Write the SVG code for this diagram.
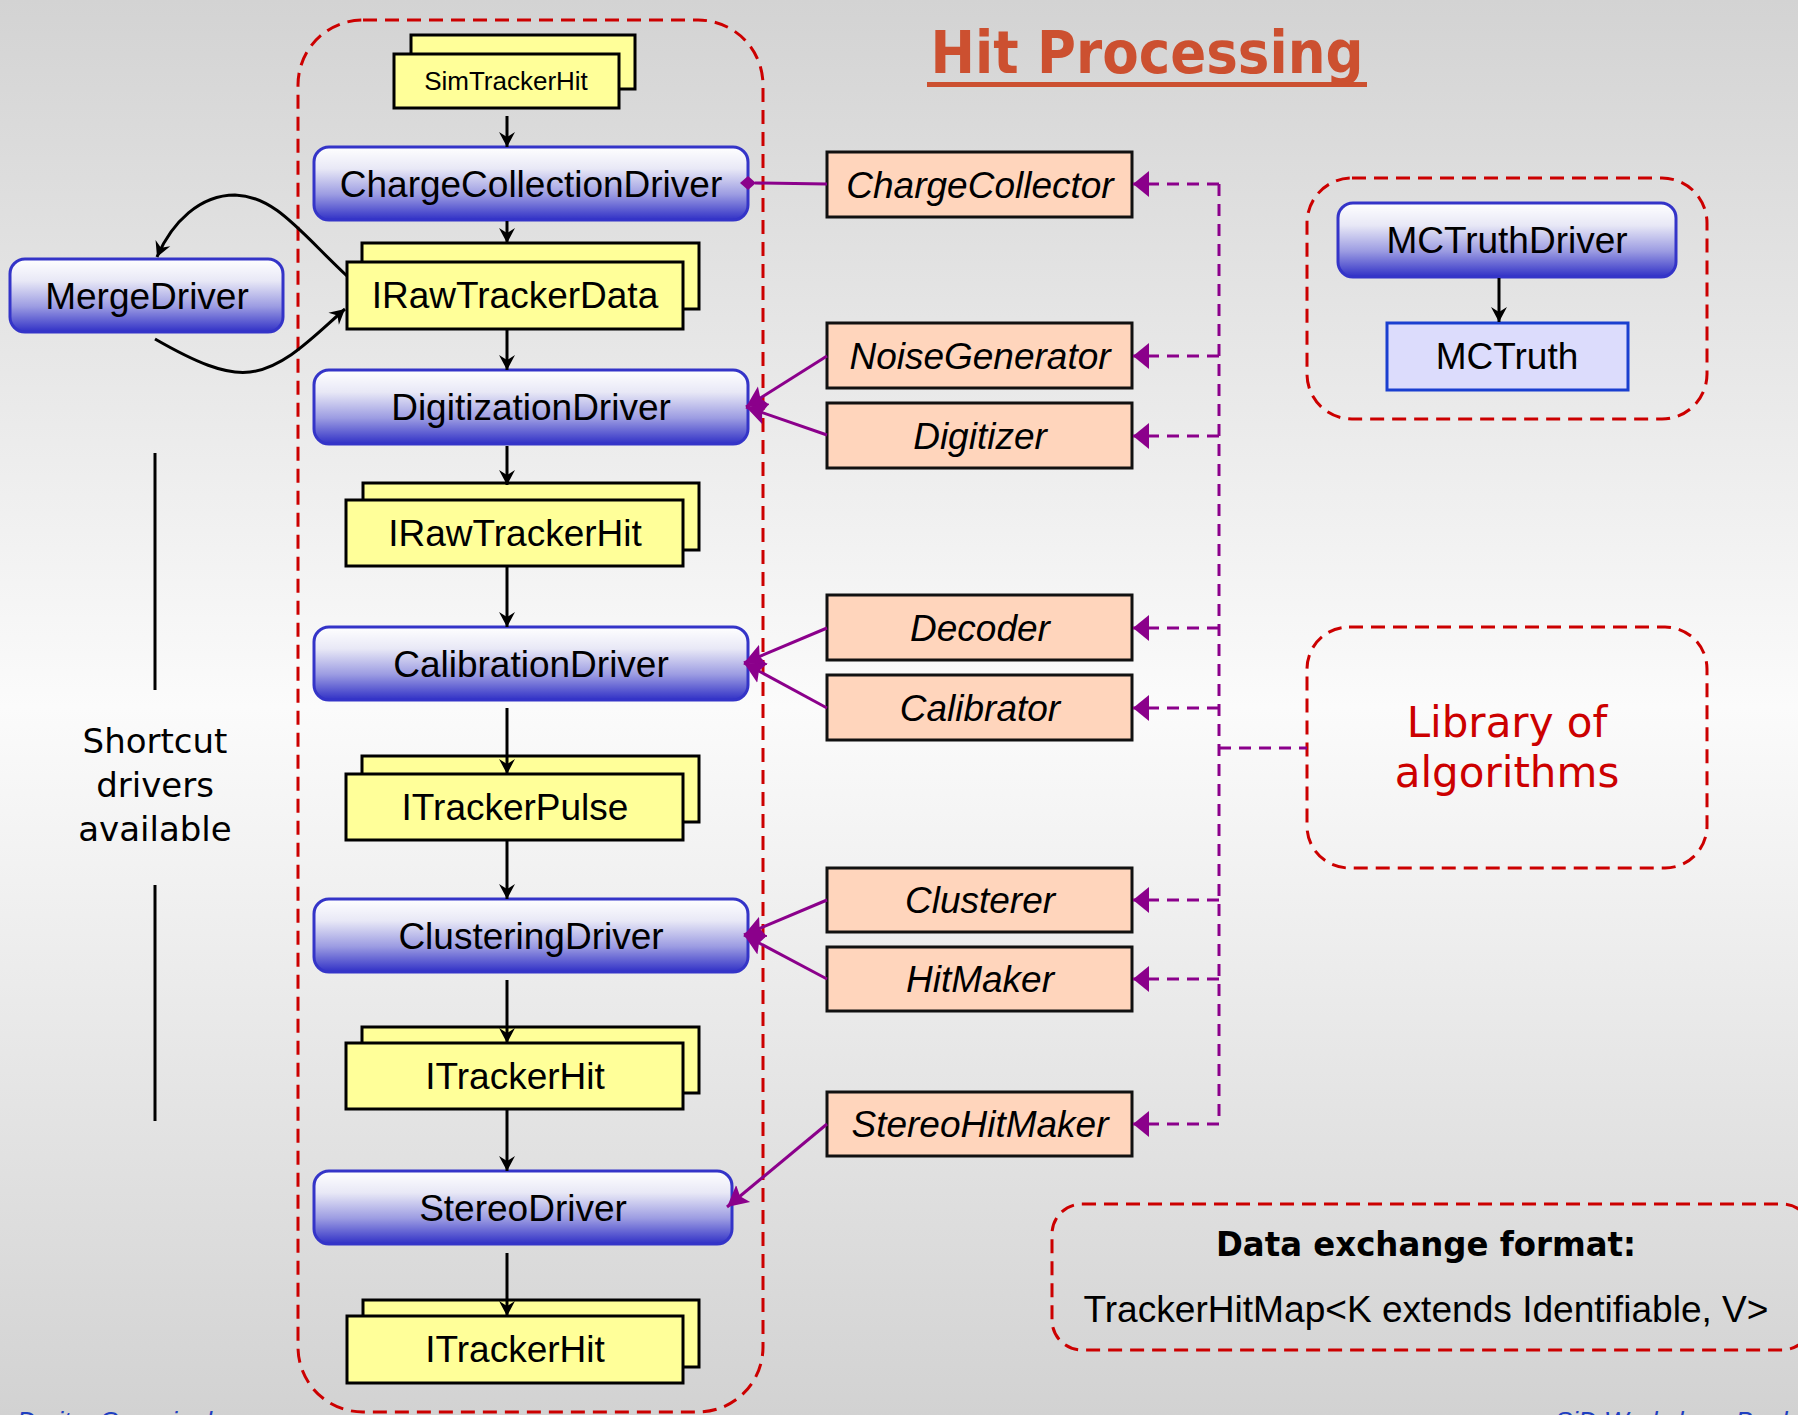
<svg xmlns="http://www.w3.org/2000/svg" width="1798" height="1415" viewBox="0 0 1798 1415">
<defs>
<linearGradient id="bg" x1="0" y1="0" x2="0" y2="1">
<stop offset="0" stop-color="#d3d3d3"/>
<stop offset="0.5" stop-color="#fbfbfb"/>
<stop offset="1" stop-color="#d2d2d2"/>
</linearGradient>
<linearGradient id="drv" x1="0" y1="0" x2="0" y2="1">
<stop offset="0" stop-color="#ffffff"/>
<stop offset="0.3" stop-color="#e8e8f6"/>
<stop offset="0.65" stop-color="#9c9ce2"/>
<stop offset="1" stop-color="#3030c6"/>
</linearGradient>
<marker id="ab" markerUnits="userSpaceOnUse" markerWidth="20" markerHeight="20" refX="16" refY="10" orient="auto">
<path d="M1,2 L16,10 L1,18 L6,10 z" fill="#000"/>
</marker>
<marker id="pa" markerUnits="userSpaceOnUse" markerWidth="24" markerHeight="24" refX="21" refY="12" orient="auto">
<path d="M0,1 L21,12 L0,23 L4,12 z" fill="#8b008b"/>
</marker>
<marker id="pd" markerUnits="userSpaceOnUse" markerWidth="18" markerHeight="28" refX="16" refY="13" orient="auto">
<path d="M0,0 L16,13 L0,26 z" fill="#8b008b"/>
</marker>
<style>
.drv{fill:url(#drv);stroke:#3434c8;stroke-width:3}
.yel{fill:#ffff99;stroke:#000;stroke-width:3}
.alg{fill:#ffd5bc;stroke:#111;stroke-width:3}
.mc{fill:#dcdcfc;stroke:#1a3fd0;stroke-width:3}
.t{font-family:"Liberation Sans",Arial,sans-serif;font-size:37px;text-anchor:middle;fill:#000}
.it{font-style:italic}
.c{font-family:"DejaVu Sans",sans-serif;text-anchor:middle}
.red{fill:none;stroke:#cc0000;stroke-width:3;stroke-dasharray:14 8}
.pdl{fill:none;stroke:#8b008b;stroke-width:3;stroke-dasharray:12 8}
.pl{fill:none;stroke:#8b008b;stroke-width:3}
.bl{fill:none;stroke:#000;stroke-width:3}
.ft{font-family:"Liberation Sans",Arial,sans-serif;font-size:26px;font-style:italic;fill:#1f3fc0}
</style>
</defs>
<rect x="0" y="0" width="1798" height="1415" fill="url(#bg)"/>

<g id="title">
<text class="c" x="1147" y="73" font-size="58" font-weight="bold" fill="#cc5030" textLength="433" lengthAdjust="spacingAndGlyphs">Hit Processing</text>
<rect x="927" y="82" width="440" height="5" fill="#cc5030"/>
</g>

<g id="pipeline-frame"><rect class="red" x="298" y="20" width="465" height="1392" rx="65"/></g>
<g id="mctruth-frame"><rect class="red" x="1307" y="178" width="400" height="241" rx="45"/></g>

<g id="SimTrackerHit">
<rect class="yel" x="411" y="35" width="224" height="54"/>
<rect class="yel" x="394" y="54" width="225" height="54"/>
<text class="t" x="506" y="90" style="font-size:26px">SimTrackerHit</text>
</g>
<g id="ChargeCollectionDriver">
<rect class="drv" x="314" y="147" width="434" height="73" rx="15"/>
<text class="t" x="531" y="197">ChargeCollectionDriver</text>
</g>
<g id="IRawTrackerData">
<rect class="yel" x="362" y="243" width="337" height="66"/>
<rect class="yel" x="347" y="262" width="336" height="67"/>
<text class="t" x="515" y="308">IRawTrackerData</text>
</g>
<g id="MergeDriver">
<rect class="drv" x="10" y="259" width="273" height="73" rx="15"/>
<text class="t" x="147" y="309">MergeDriver</text>
</g>
<g id="DigitizationDriver">
<rect class="drv" x="314" y="370" width="434" height="74" rx="15"/>
<text class="t" x="531" y="420">DigitizationDriver</text>
</g>
<g id="IRawTrackerHit">
<rect class="yel" x="363" y="483" width="336" height="67"/>
<rect class="yel" x="346" y="500" width="337" height="66"/>
<text class="t" x="515" y="546">IRawTrackerHit</text>
</g>
<g id="CalibrationDriver">
<rect class="drv" x="314" y="627" width="434" height="73" rx="15"/>
<text class="t" x="531" y="677">CalibrationDriver</text>
</g>
<g id="ITrackerPulse">
<rect class="yel" x="362" y="756" width="337" height="66"/>
<rect class="yel" x="346" y="774" width="337" height="66"/>
<text class="t" x="515" y="820">ITrackerPulse</text>
</g>
<g id="ClusteringDriver">
<rect class="drv" x="314" y="899" width="434" height="73" rx="15"/>
<text class="t" x="531" y="949">ClusteringDriver</text>
</g>
<g id="ITrackerHit-1">
<rect class="yel" x="362" y="1027" width="337" height="66"/>
<rect class="yel" x="346" y="1043" width="337" height="66"/>
<text class="t" x="515" y="1089">ITrackerHit</text>
</g>
<g id="StereoDriver">
<rect class="drv" x="314" y="1171" width="418" height="73" rx="15"/>
<text class="t" x="523" y="1221">StereoDriver</text>
</g>
<g id="ITrackerHit-2">
<rect class="yel" x="363" y="1300" width="336" height="67"/>
<rect class="yel" x="347" y="1316" width="336" height="67"/>
<text class="t" x="515" y="1362">ITrackerHit</text>
</g>

<g id="ChargeCollector"><rect class="alg" x="827" y="152" width="305" height="65"/><text class="t it" x="980" y="198">ChargeCollector</text></g>
<g id="NoiseGenerator"><rect class="alg" x="827" y="323" width="305" height="65"/><text class="t it" x="980" y="369">NoiseGenerator</text></g>
<g id="Digitizer"><rect class="alg" x="827" y="403" width="305" height="65"/><text class="t it" x="980" y="449">Digitizer</text></g>
<g id="Decoder"><rect class="alg" x="827" y="595" width="305" height="65"/><text class="t it" x="980" y="641">Decoder</text></g>
<g id="Calibrator"><rect class="alg" x="827" y="675" width="305" height="65"/><text class="t it" x="980" y="721">Calibrator</text></g>
<g id="Clusterer"><rect class="alg" x="827" y="868" width="305" height="64"/><text class="t it" x="980" y="913">Clusterer</text></g>
<g id="HitMaker"><rect class="alg" x="827" y="947" width="305" height="64"/><text class="t it" x="980" y="992">HitMaker</text></g>
<g id="StereoHitMaker"><rect class="alg" x="827" y="1092" width="305" height="64"/><text class="t it" x="980" y="1137">StereoHitMaker</text></g>

<g id="MCTruthDriver">
<rect class="drv" x="1338" y="203" width="338" height="74" rx="15"/>
<text class="t" x="1507" y="253">MCTruthDriver</text>
</g>
<g id="MCTruth">
<rect class="mc" x="1387" y="323" width="241" height="67"/>
<text class="t" x="1507" y="369">MCTruth</text>
</g>

<g id="Library">
<rect class="red" x="1307" y="627" width="400" height="241" rx="42"/>
<text class="c" x="1507" y="737" font-size="42" fill="#cc0000">Library of</text>
<text class="c" x="1507" y="787" font-size="42" fill="#cc0000">algorithms</text>
</g>

<g id="Shortcut">
<text class="c" x="155" y="753" font-size="34" fill="#000">Shortcut</text>
<text class="c" x="155" y="797" font-size="34" fill="#000">drivers</text>
<text class="c" x="155" y="841" font-size="34" fill="#000">available</text>
</g>

<g id="DataExchange">
<rect class="red" x="1052" y="1204" width="760" height="146" rx="30"/>
<text class="c" x="1426" y="1256" font-size="34" font-weight="bold" fill="#000" textLength="420" lengthAdjust="spacingAndGlyphs">Data exchange format:</text>
<text class="t" x="1426" y="1322" style="font-size:36px" textLength="685" lengthAdjust="spacingAndGlyphs">TrackerHitMap&lt;K extends Identifiable, V&gt;</text>
</g>

<g id="connectors">
<line class="bl" x1="507" y1="116" x2="507" y2="147" marker-end="url(#ab)"/>
<line class="bl" x1="507" y1="221" x2="507" y2="243" marker-end="url(#ab)"/>
<line class="bl" x1="507" y1="330" x2="507" y2="370" marker-end="url(#ab)"/>
<line class="bl" x1="507" y1="446" x2="507" y2="485" marker-end="url(#ab)"/>
<line class="bl" x1="507" y1="567" x2="507" y2="627" marker-end="url(#ab)"/>
<line class="bl" x1="507" y1="708" x2="507" y2="774" marker-end="url(#ab)"/>
<line class="bl" x1="507" y1="841" x2="507" y2="899" marker-end="url(#ab)"/>
<line class="bl" x1="507" y1="980" x2="507" y2="1043" marker-end="url(#ab)"/>
<line class="bl" x1="507" y1="1110" x2="507" y2="1171" marker-end="url(#ab)"/>
<line class="bl" x1="507" y1="1253" x2="507" y2="1316" marker-end="url(#ab)"/>
<line class="bl" x1="1499" y1="278" x2="1499" y2="322" marker-end="url(#ab)"/>
<path class="bl" d="M347,276 C300,232 275,196 235,195 C200,195 172,222 157,257" marker-end="url(#ab)"/>
<path class="bl" d="M155,339 C195,362 225,375 250,372 C285,368 315,335 345,309" marker-end="url(#ab)"/>

<polygon points="740,183 748,176 756,183 748,190" fill="#8b008b"/>
<line class="pl" x1="755" y1="183" x2="827" y2="184"/>
<line class="pl" x1="827" y1="356" x2="746" y2="407" marker-end="url(#pa)"/>
<line class="pl" x1="827" y1="435" x2="746" y2="407" marker-end="url(#pa)"/>
<line class="pl" x1="827" y1="628" x2="744" y2="663" marker-end="url(#pa)"/>
<line class="pl" x1="827" y1="708" x2="744" y2="663" marker-end="url(#pa)"/>
<line class="pl" x1="827" y1="900" x2="744" y2="935" marker-end="url(#pa)"/>
<line class="pl" x1="827" y1="979" x2="744" y2="935" marker-end="url(#pa)"/>
<line class="pl" x1="827" y1="1124" x2="727" y2="1207" marker-end="url(#pa)"/>

<line class="pdl" x1="1219" y1="184" x2="1219" y2="1124"/>
<line class="pdl" x1="1219" y1="748" x2="1307" y2="748"/>
<line class="pdl" x1="1219" y1="184" x2="1133" y2="184" marker-end="url(#pd)"/>
<line class="pdl" x1="1219" y1="356" x2="1133" y2="356" marker-end="url(#pd)"/>
<line class="pdl" x1="1219" y1="436" x2="1133" y2="436" marker-end="url(#pd)"/>
<line class="pdl" x1="1219" y1="628" x2="1133" y2="628" marker-end="url(#pd)"/>
<line class="pdl" x1="1219" y1="708" x2="1133" y2="708" marker-end="url(#pd)"/>
<line class="pdl" x1="1219" y1="900" x2="1133" y2="900" marker-end="url(#pd)"/>
<line class="pdl" x1="1219" y1="979" x2="1133" y2="979" marker-end="url(#pd)"/>
<line class="pdl" x1="1219" y1="1124" x2="1133" y2="1124" marker-end="url(#pd)"/>

<line class="bl" x1="155" y1="453" x2="155" y2="690"/>
<line class="bl" x1="155" y1="885" x2="155" y2="1121"/>
</g>

<g id="footer">
<text class="ft" x="17" y="1430">Dmitry Onoprienko</text>
<text class="ft" x="1555" y="1430">SiD Workshop, Boulder</text>
</g>
</svg>
